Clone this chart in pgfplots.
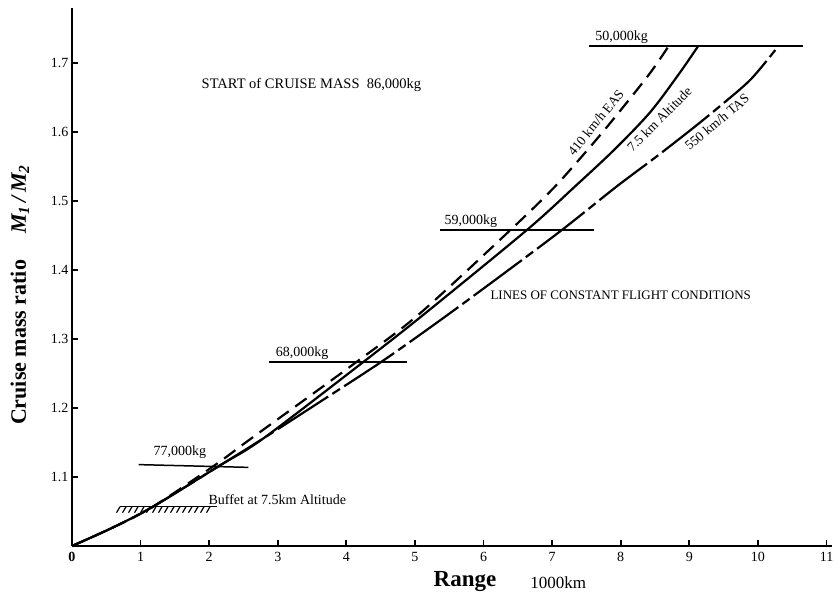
\documentclass[border=0pt]{standalone}
\usepackage{fontspec}
\setmainfont{Liberation Serif}
\usepackage{pgfplots}
\pgfplotsset{compat=1.18}
\usetikzlibrary{decorations.pathreplacing}
\newcommand{\fs}[1]{\fontsize{#1bp}{#1bp}\selectfont}
\begin{document}
\begin{tikzpicture}
\begin{axis}[
  scale only axis, width=760bp, height=538bp,
  xmin=0, xmax=11.08, ymin=1.0, ymax=1.78,
  axis lines*=left,
  axis line style={line width=1.8bp, -},
  xtick={0,1,2,3,4,5,6,7,8,9,10,11},
  xticklabels={\textbf{0},1,2,3,4,5,6,7,8,9,10,11},
  ytick={1.1,1.2,1.3,1.4,1.5,1.6,1.7},
  yticklabels={1.1,1.2,1.3,1.4,1.5,1.6,1.7},
  tick align=inside, major tick length=6bp,
  tick style={line width=1.8bp, black},
  ticklabel style={font=\fs{14}},
  xticklabel style={yshift=-3bp},
  /pgf/number format/assume math mode=true,
  clip=false,
]
% 410 km/h EAS (dashed)
\addplot[black, smooth, line width=2.2bp, dash pattern=on 14bp off 8bp] coordinates {
 (0,1.0) (0.6,1.027) (1.18,1.057) (2.08,1.117) (2.6,1.155) (4.15,1.267) (5.07,1.337)
 (6.39,1.458) (7.04,1.521) (7.60,1.584) (8.0,1.632) (8.43,1.686) (8.70,1.725)};
% 7.5 km Altitude (solid)
\addplot[black, smooth, line width=2.2bp] coordinates {
 (0,1.0) (0.6,1.027) (1.18,1.057) (2.16,1.117) (2.79,1.156) (4.25,1.267) (5.12,1.335)
 (6.63,1.458) (7.33,1.521) (7.90,1.574) (8.43,1.629) (8.86,1.686) (9.13,1.725)};
% 550 km/h TAS (dash-dot)
\addplot[black, smooth, line width=2.2bp, dash pattern=on 60bp off 5bp on 9bp off 5bp] coordinates {
 (0,1.0) (0.6,1.027) (1.18,1.057) (2.16,1.117) (2.79,1.156) (3.6,1.208) (4.51,1.267)
 (5.35,1.326) (6.2,1.388) (7.14,1.458) (7.95,1.522) (8.5,1.563) (9.03,1.604)
 (9.45,1.638) (9.9,1.677) (10.3,1.725)};
% constant mass lines
\addplot[black, line width=1.5bp] coordinates {(7.54,1.725) (10.66,1.725)};
\addplot[black, line width=1.5bp] coordinates {(5.37,1.458) (7.61,1.458)};
\addplot[black, line width=1.5bp] coordinates {(2.87,1.267) (4.88,1.267)};
\addplot[black, line width=1.5bp] coordinates {(0.97,1.118) (2.57,1.114)};
% buffet line (hatched below)
\addplot[black, line width=1.5bp, postaction={decorate, line width=1.2bp, decoration={border, segment length=6bp, amplitude=7bp, angle=-120}}] coordinates {(0.70,1.057) (2.11,1.057)};
% labels
\node[anchor=west, font=\fs{14}] at (axis cs:7.58,1.738) {50,000kg};
\node[anchor=west, font=\fs{14}] at (axis cs:5.38,1.471) {59,000kg};
\node[anchor=west, font=\fs{14}] at (axis cs:2.92,1.280) {68,000kg};
\node[anchor=west, font=\fs{14}] at (axis cs:1.14,1.136) {77,000kg};
\node[anchor=west, font=\fs{14}] at (axis cs:1.94,1.067) {Buffet at 7.5km Altitude};
\node[anchor=west, font=\fs{14.5}] at (axis cs:1.84,1.668) {START of CRUISE MASS\ \ 86,000kg};
\node[anchor=west, font=\fs{13}] at (axis cs:6.05,1.364) {LINES OF CONSTANT FLIGHT CONDITIONS};
\node[rotate=51, anchor=south, inner sep=6bp, font=\fs{13.5}] at (axis cs:7.76,1.604) {410 km/h EAS};
\node[rotate=45, anchor=north, inner sep=6bp, font=\fs{13.5}] at (axis cs:8.45,1.630) {7.5 km Altitude};
\node[rotate=40, anchor=north, inner sep=6bp, font=\fs{13.5}] at (axis cs:9.30,1.627) {550 km/h TAS};
\node[font=\fs{23}\bfseries] at (axis cs:5.73,0.948) {Range};
\node[anchor=west, font=\fs{17}] at (axis cs:6.63,0.947) {1000km};
\node[rotate=90, font=\fs{22}\bfseries] at (axis cs:-0.76,1.364) {Cruise mass ratio\hspace{26bp}{\itshape M\textsubscript{1}\,/\,M\textsubscript{2}}};
\end{axis}
\pgfresetboundingbox
\path[use as bounding box] (-72bp,-49bp) rectangle (763bp,546bp);
\end{tikzpicture}
\end{document}
